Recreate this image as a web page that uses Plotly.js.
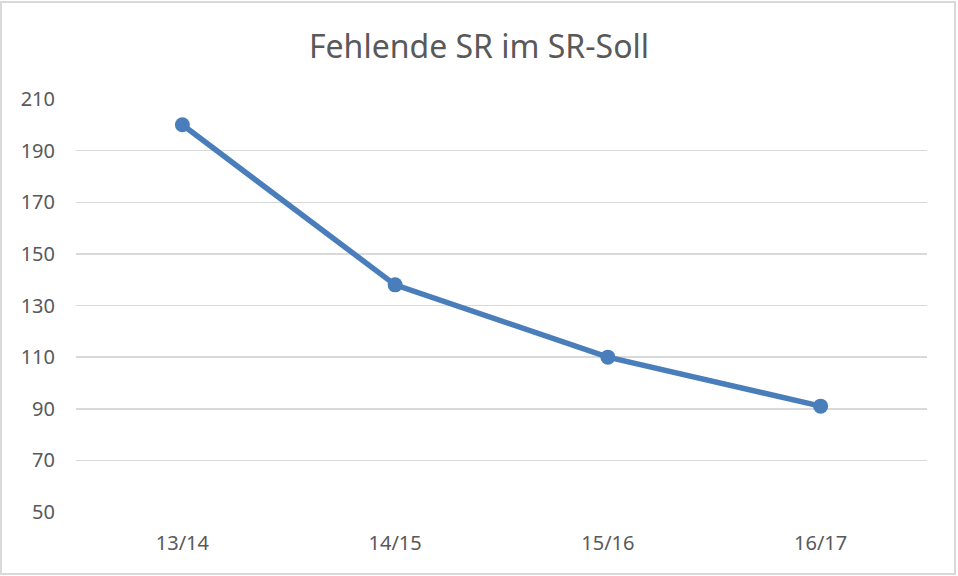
<!DOCTYPE html>
<html>
<head>
<meta charset="utf-8">
<script src="https://cdn.plot.ly/plotly-3.0.1.min.js"></script>
<style>
  html, body { margin: 0; padding: 0; background: #fff; }
  #wrap { position: relative; width: 958px; height: 576px; }
  #chart { width: 958px; height: 576px; }
  #frame { position: absolute; left: 0; top: 1px; width: 952px; height: 570px; border: 2px solid #d9d9d9; pointer-events: none; }
</style>
</head>
<body>
<div id="wrap">
  <div id="chart"></div>
  <div id="frame"></div>
</div>
<script>
const categories = ["13/14", "14/15", "15/16", "16/17"];
const values = [200, 138, 110, 91];
const yTicks = [50, 70, 90, 110, 130, 150, 170, 190, 210];
const chartTitle = "Fehlende SR im SR-Soll";

const trace = {
  type: "scatter",
  mode: "lines+markers",
  x: categories,
  y: values,
  line: { color: "#4a7ebb", width: 5.5 },
  marker: { color: "#4a7ebb", size: 15 },
  hoverinfo: "skip"
};

const layout = {
  width: 958,
  height: 576,
  margin: { l: 76, r: 31, t: 99, b: 64 },
  paper_bgcolor: "#ffffff",
  plot_bgcolor: "#ffffff",
  showlegend: false,
  font: { family: "Noto Sans, sans-serif", color: "#595959" },
  title: {
    text: chartTitle,
    font: { family: "Noto Sans, sans-serif", size: 32, color: "#595959" },
    x: 0.5, xanchor: "center",
    y: 1 - 47 / 576, yanchor: "middle", yref: "container"
  },
  xaxis: {
    type: "category",
    range: [-0.5, 3.5],
    showgrid: false,
    zeroline: false,
    showline: false,
    ticks: "",
    ticklabelstandoff: 17,
    tickfont: { size: 20, color: "#595959" }
  },
  yaxis: {
    range: [50, 210],
    tickvals: yTicks,
    ticktext: yTicks.map(String),
    showgrid: true,
    gridcolor: "#d9d9d9",
    gridwidth: 1.5,
    zeroline: false,
    showline: false,
    ticks: "",
    ticklabelstandoff: 20,
    tickfont: { size: 20, color: "#595959" }
  }
};

Plotly.newPlot("chart", [trace], layout, { displayModeBar: false, staticPlot: true });
</script>
</body>
</html>
